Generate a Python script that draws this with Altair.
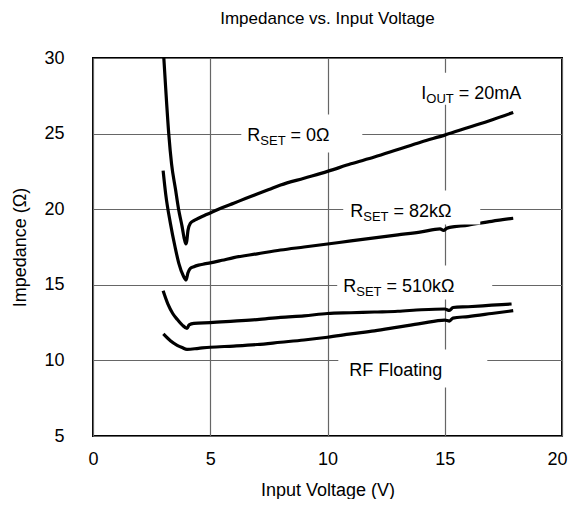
import altair as alt
import pandas as pd

# ---- data ----
r0_x = [3.02, 3.10, 3.23, 3.35, 3.52, 3.65, 3.80, 3.90, 3.96, 4.00, 4.05, 4.15, 4.3, 4.5, 4.75, 5.0, 5.5, 6.0, 6.5, 7.0, 7.5, 8.0, 9.0, 10.0, 11.0, 12.0, 13.0, 14.0, 15.0, 16.0, 17.0, 17.92]
r0_y = [30.0, 28.0, 25.0, 23.0, 21.3, 20.0, 18.85, 18.0, 17.7, 17.9, 18.6, 19.07, 19.25, 19.4, 19.58, 19.75, 20.1, 20.4, 20.7, 21.0, 21.3, 21.6, 22.05, 22.5, 23.0, 23.45, 23.95, 24.45, 24.9, 25.4, 25.9, 26.4]

r82_x = [2.99, 3.1, 3.3, 3.5, 3.66, 3.85, 3.97, 4.05, 4.15, 4.3, 4.5, 4.75, 5.0, 5.5, 6.0, 7.0, 8.0, 9.0, 10.0, 11.0, 12.0, 13.0, 14.0, 14.8, 14.95, 15.1, 16.0, 17.0, 17.92]
r82_y = [22.55, 21.0, 19.07, 17.5, 16.42, 15.6, 15.32, 15.8, 16.09, 16.2, 16.3, 16.38, 16.45, 16.62, 16.8, 17.05, 17.3, 17.5, 17.7, 17.9, 18.1, 18.3, 18.5, 18.7, 18.6, 18.75, 18.95, 19.2, 19.4]

r510_x = [2.99, 3.2, 3.4, 3.6, 3.8, 4.01, 4.1, 4.3, 5.0, 6.0, 7.0, 8.0, 9.0, 10.0, 11.0, 12.0, 13.0, 14.0, 15.0, 15.2, 15.35, 16.0, 17.0, 17.85]
r510_y = [14.6, 13.7, 13.1, 12.7, 12.35, 12.12, 12.35, 12.45, 12.5, 12.6, 12.7, 12.85, 12.95, 13.1, 13.15, 13.2, 13.25, 13.35, 13.4, 13.3, 13.5, 13.55, 13.65, 13.73]

rf_x = [3.0, 3.3, 3.59, 3.8, 4.01, 4.5, 5.0, 6.0, 7.0, 8.0, 9.0, 10.0, 11.0, 12.0, 13.0, 14.0, 15.0, 15.2, 15.35, 16.0, 17.0, 17.92]
rf_y = [11.75, 11.3, 11.0, 10.85, 10.73, 10.8, 10.87, 10.95, 11.05, 11.2, 11.35, 11.53, 11.75, 11.95, 12.2, 12.45, 12.67, 12.6, 12.8, 12.9, 13.1, 13.29]

series_names = ["R0", "R82k", "R510k", "RF"]
series_x = [r0_x, r82_x, r510_x, rf_x]
series_y = [r0_y, r82_y, r510_y, rf_y]

# annotation labels: main letter, subscript, rest; anchor (left x, baseline y) in data units
lab_main = ["I", "R", "R", "R", ""]
lab_sub = ["OUT", "SET", "SET", "SET", ""]
lab_rest = ["= 20mA", "= 0Ω", "= 82kΩ", "= 510kΩ", "RF Floating"]
lab_x = [14.0, 6.58, 10.97, 10.67, 10.93]
lab_y = [27.31, 24.54, 19.51, 14.55, 9.0]

x_ticks = [0, 5, 10, 15, 20]
y_ticks = [5, 10, 15, 20, 25, 30]

# ---- styling ----
FONT = "Liberation Sans"
F_MAIN = 18
F_SUB = 13
W_MAIN = {"I": 0.278, "R": 0.722, "": 0.0}
W_SUB = {"OUT": 2.111, "SET": 1.945, "": 0.0}
SPACE = 0.278 * F_MAIN
# box extents (pixels) around each label: left pad, right extent, top, bottom
box_l = [-6, -6, -7, -6, -11]
box_r = [124, 115, 130, 149, 138]
box_t = [-26, -26, -26, -26, -26]
box_b = [6, 12, 8, 8, 12]

rows = []
for n, xs_, ys_ in zip(series_names, series_x, series_y):
    for i, (a, b) in enumerate(zip(xs_, ys_)):
        rows.append({"series": n, "x": a, "y": b, "order": i})
df = pd.DataFrame(rows)

xs = alt.X("x:Q", scale=alt.Scale(domain=[0, 20], nice=False),
           axis=alt.Axis(values=x_ticks, title="Input Voltage (V)", grid=True, ticks=False,
                         domain=False, labelPadding=14, titlePadding=13, labelFlush=False,
                         labelOffset={"condition": {"test": "datum.value >= 20", "value": -5}, "value": 0}))
ys = alt.Y("y:Q", scale=alt.Scale(domain=[5, 30], nice=False),
           axis=alt.Axis(values=y_ticks, title="Impedance (Ω)", grid=True, ticks=False,
                         domain=False, labelPadding=29, titlePadding=14, labelFlush=False))

base = alt.Chart(df).mark_line(color="black", strokeWidth=3.2, clip=True, interpolate="monotone").encode(
    x=xs, y=ys, detail="series:N", order="order:Q")

layers = [base]
for i in range(len(lab_rest)):
    d = pd.DataFrame({"x": [lab_x[i]], "y": [lab_y[i]]})
    box = alt.Chart(d).mark_rect(color="white", xOffset=box_l[i], x2Offset=box_r[i],
                                 yOffset=box_t[i], y2Offset=box_b[i]).encode(
        x="x:Q", x2="x2:Q", y="y:Q", y2="y2:Q").transform_calculate(
        x2="datum.x", y2="datum.y")
    layers.append(box)

for i in range(len(lab_rest)):
    d = pd.DataFrame({"x": [lab_x[i]], "y": [lab_y[i]]})
    w1 = W_MAIN[lab_main[i]] * F_MAIN
    w2 = W_SUB[lab_sub[i]] * F_SUB
    off = w1 + w2 + (SPACE if lab_main[i] else 0)
    if lab_main[i]:
        layers.append(alt.Chart(d).mark_text(text=lab_main[i], align="left", baseline="alphabetic",
                                             font=FONT, fontSize=F_MAIN, color="black").encode(x="x:Q", y="y:Q"))
        layers.append(alt.Chart(d).mark_text(text=lab_sub[i], align="left", baseline="alphabetic",
                                             font=FONT, fontSize=F_SUB, color="black", dx=w1, dy=4).encode(x="x:Q", y="y:Q"))
    layers.append(alt.Chart(d).mark_text(text=lab_rest[i], align="left", baseline="alphabetic",
                                         font=FONT, fontSize=F_MAIN, color="black", dx=off).encode(x="x:Q", y="y:Q"))

chart = alt.layer(*layers).properties(
    width=469, height=378,
    background="white",
    title=alt.TitleParams("Impedance vs. Input Voltage", font=FONT, fontSize=17, fontWeight="normal",
                          color="black", offset=21),
    autosize=alt.AutoSizeParams(type="none"),
    padding={"left": 85, "top": 50, "right": 6, "bottom": 63},
).configure_view(stroke="black", strokeWidth=2).configure_axis(
    labelFont=FONT, labelFontSize=18, labelColor="black", titleFont=FONT, titleFontSize=18,
    titleFontWeight="normal", titleColor="black", gridColor="#666666", gridWidth=1.2, gridOpacity=1
)

chart.save("out.html", embed_options={"renderer": "svg", "actions": False})
